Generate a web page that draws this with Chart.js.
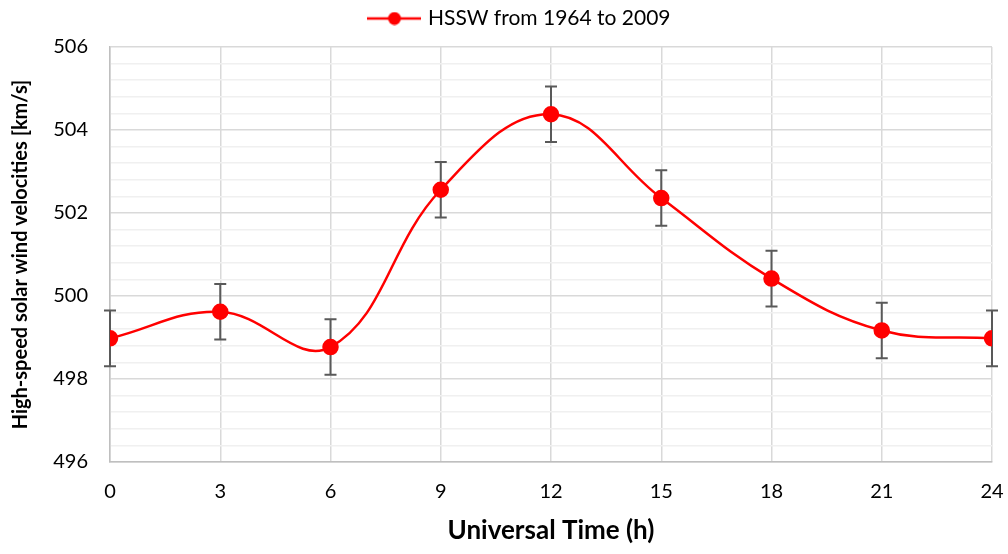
<!DOCTYPE html>
<html>
<head>
<meta charset="utf-8">
<script src="https://cdn.jsdelivr.net/npm/chart.js@4/dist/chart.umd.min.js"></script>
<style>
  html, body { margin: 0; padding: 0; background: #fff; }
  #wrap { width: 1008px; height: 554px; }
</style>
</head>
<body>
<div id="wrap"><canvas id="line-chart" width="1008" height="554"></canvas></div>
<script>
let hours = [0, 3, 6, 9, 12, 15, 18, 21, 24]
let hssw = [498.98, 499.62, 498.77, 502.56, 504.38, 502.36, 500.42, 499.17, 498.98]
let hsswErr = [0.67, 0.67, 0.67, 0.67, 0.67, 0.67, 0.67, 0.67, 0.67]
let seriesLabel = "HSSW from 1964 to 2009"

const FONT = "Lato, 'Open Sans', sans-serif"

// legend marker: short red line with a dot in the middle
const marker = document.createElement("canvas")
marker.width = 54
marker.height = 14
{
  const m = marker.getContext("2d")
  m.strokeStyle = "#ff0000"
  m.lineWidth = 2.5
  m.beginPath(); m.moveTo(0, 7); m.lineTo(54, 7); m.stroke()
  m.fillStyle = "#ff0000"
  m.beginPath(); m.arc(27, 7, 6.5, 0, Math.PI * 2); m.fill()
}

const errorBars = {
  id: "errorBars",
  beforeLayout(chart) {
    // fixed legend band height
    const lg = chart.legend
    if (lg && !lg._patched) {
      const fit = lg.fit
      lg.fit = function () { fit.call(this); this.height = 47 }
      lg._patched = true
    }
  },
  afterLayout(chart) {
    // legend sits a bit right of centre in the original
    chart.legend.left += 17
    chart.legend.right += 17
  },
  beforeDatasetsDraw(chart) {
    const ctx = chart.ctx
    const xs = chart.scales.x, ys = chart.scales.y
    ctx.save()
    ctx.strokeStyle = "#595959"
    ctx.lineWidth = 2
    hours.forEach((h, i) => {
      const x = xs.getPixelForValue(h)
      const top = ys.getPixelForValue(hssw[i] + hsswErr[i])
      const bot = ys.getPixelForValue(hssw[i] - hsswErr[i])
      ctx.beginPath()
      ctx.moveTo(x, top); ctx.lineTo(x, bot)
      ctx.moveTo(x - 6, top); ctx.lineTo(x + 6, top)
      ctx.moveTo(x - 6, bot); ctx.lineTo(x + 6, bot)
      ctx.stroke()
    })
    ctx.restore()
  }
}

const isMajor = v => Math.abs(v - Math.round(v / 2) * 2) < 1e-6

const lctx = document.getElementById("line-chart").getContext("2d")

new Chart(lctx, {
  type: "line",
  data: {
    datasets: [
      {
        label: seriesLabel,
        data: hours.map((h, i) => ({ x: h, y: hssw[i] })),
        borderColor: "#ff0000",
        backgroundColor: "#ff0000",
        borderWidth: 2.5,
        pointRadius: 7,
        pointHoverRadius: 7,
        tension: 0.4,
        fill: false
      }
    ]
  },
  plugins: [errorBars],
  options: {
    responsive: false,
    animation: false,
    layout: { padding: { left: 0, right: 0, top: 0, bottom: 0 } },
    plugins: {
      tooltip: { enabled: false },
      legend: {
        position: "top",
        labels: {
          usePointStyle: true,
          pointStyle: marker,
          pointStyleWidth: 46,
          boxHeight: 14,
          color: "#000",
          padding: 8,
          font: { family: FONT, size: 21 }
        }
      }
    },
    scales: {
      x: {
        type: "linear",
        min: 0,
        max: 24,
        afterFit: s => { s.height = 92; s.paddingLeft = 0; s.paddingRight = 16 },
        ticks: {
          stepSize: 3,
          color: "#000",
          padding: 18,
          font: { family: FONT, size: 20 }
        },
        grid: { color: "#d9d9d9", lineWidth: 1.5, drawTicks: false },
        border: { color: "#bfbfbf", width: 1.5 },
        title: {
          display: true,
          text: "Universal Time (h)",
          color: "#000",
          padding: { top: 0, bottom: 8 },
          font: { family: FONT, size: 26, weight: "bold" }
        }
      },
      y: {
        min: 496,
        max: 506,
        afterFit: s => { s.width = 110 },
        ticks: {
          stepSize: 0.4,
          autoSkip: false,
          color: "#000",
          padding: 22,
          font: { family: FONT, size: 20 },
          callback: v => isMajor(v) ? Math.round(v).toString() : ""
        },
        grid: {
          drawTicks: false,
          lineWidth: 1.5,
          color: c => isMajor(c.tick.value) ? "#d9d9d9" : "#f0f0f0"
        },
        border: { color: "#bfbfbf", width: 1.5 },
        title: {
          display: true,
          text: "High-speed solar wind velocities [km/s]",
          color: "#000",
          padding: { top: 9, bottom: 0 },
          font: { family: FONT, size: 20, weight: "bold" }
        }
      }
    }
  }
})
</script>
</body>
</html>
